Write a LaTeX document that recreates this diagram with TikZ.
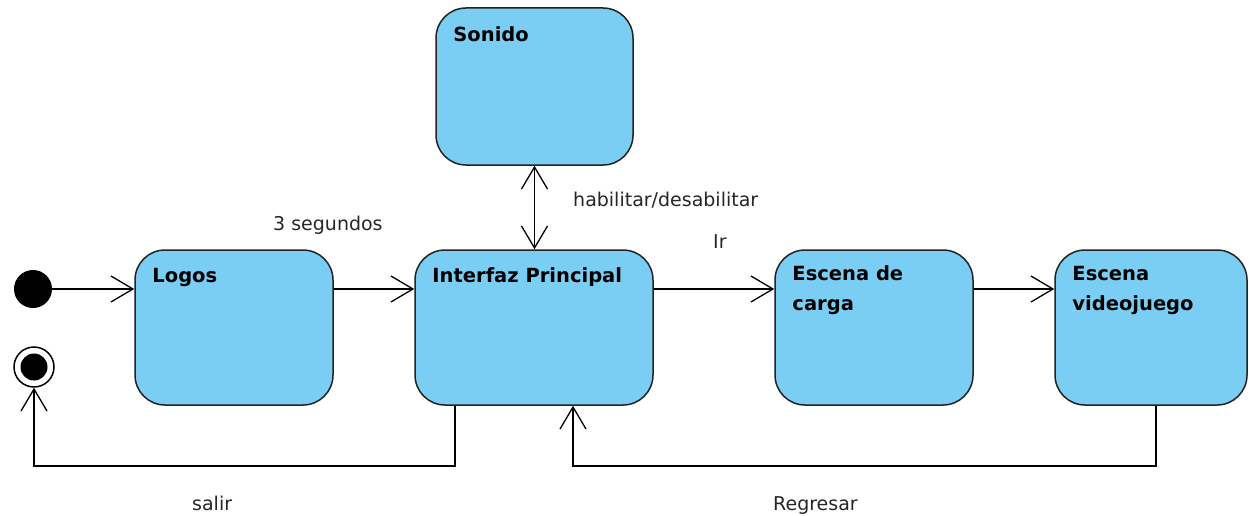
\documentclass[tikz,border=0pt]{standalone}
\usepackage{fontspec}
\setmainfont{DejaVu Sans}
\usetikzlibrary{arrows.meta}
\definecolor{stfill}{RGB}{122,206,243}
\definecolor{stline}{RGB}{35,35,35}

\begin{document}
\begin{tikzpicture}[x=1pt,y=-1pt,
  estado/.style={draw=stline,fill=stfill,line width=1.5pt,rounded corners=30pt,
    minimum width=198pt,minimum height=155pt,inner sep=0pt},
  titulo/.style={anchor=base west,align=left,inner sep=0pt,
    font=\fontsize{19.5}{30}\selectfont\bfseries},
  rotulo/.style={anchor=base west,inner sep=0pt,font=\fontsize{19}{23}\selectfont,text=black!85},
  punta/.tip={Straight Barb[length=22pt,width=26pt,line width=1.3pt]},
  trans/.style={line width=1.3pt,-punta}]
  \useasboundingbox (0,0) rectangle (1249,516);

  % pseudo-states
  \node[circle,fill=black,minimum size=38pt,inner sep=0pt] (inicio) at (33,289) {};
  \node[circle,draw=black,line width=1.5pt,minimum size=40pt,inner sep=0pt] (fin) at (34,367) {};
  \fill (fin.center) circle (13.5pt);

  % states
  \node[estado] (logos) at (234,327.5) {};
  \node[estado,minimum width=238pt] (interfaz) at (534,327.5) {};
  \node[estado,minimum width=197pt,minimum height=157pt] (sonido) at (534.5,86.5) {};
  \node[estado] (carga) at (874,327.5) {};
  \node[estado,minimum width=192pt] (videojuego) at (1151,327.5) {};

  \node[titulo] (tlogos) at ([shift={(18pt,-33pt)}]logos.north west) {Logos};
  \node[titulo] (tinterfaz) at ([shift={(18pt,-33pt)}]interfaz.north west) {Interfaz Principal};
  \node[titulo] (tsonido) at ([shift={(18pt,-34pt)}]sonido.north west) {Sonido};
  \node[titulo] (tcarga) at ([shift={(18pt,-61pt)}]carga.north west) {Escena de\\carga};
  \node[titulo] (tvideo) at ([shift={(18pt,-61pt)}]videojuego.north west) {Escena\\videojuego};

  % transitions
  \coordinate (bajo) at (0,466);
  \coordinate (salI) at ([xshift=-79pt]interfaz.south);
  \coordinate (entI) at ([xshift=39pt]interfaz.south);
  \coordinate (salV) at ([xshift=5pt]videojuego.south);

  \draw[trans] (inicio) -- (logos.west |- inicio);
  \draw[trans] (logos.east |- inicio) -- (interfaz.west |- inicio);
  \draw[trans] (interfaz.east |- inicio) -- (carga.west |- inicio);
  \draw[trans] (carga.east |- inicio) -- (videojuego.west |- inicio);
  \draw[trans,punta-punta] (sonido.south) -- (sonido.south |- interfaz.north);
  \draw[trans] (salI) -- (salI |- bajo) -| (fin.south);
  \draw[trans] (salV) -- (salV |- bajo) -| (entI);

  \node[rotulo] (lseg) at (273,230) {3 segundos};
  \node[rotulo] (lhab) at (573,206) {habilitar/desabilitar};
  \node[rotulo] (lir) at (713,248) {Ir};
  \node[rotulo] (lsal) at (192,510) {salir};
  \node[rotulo] (lreg) at (773,510) {Regresar};
\end{tikzpicture}
\end{document}
